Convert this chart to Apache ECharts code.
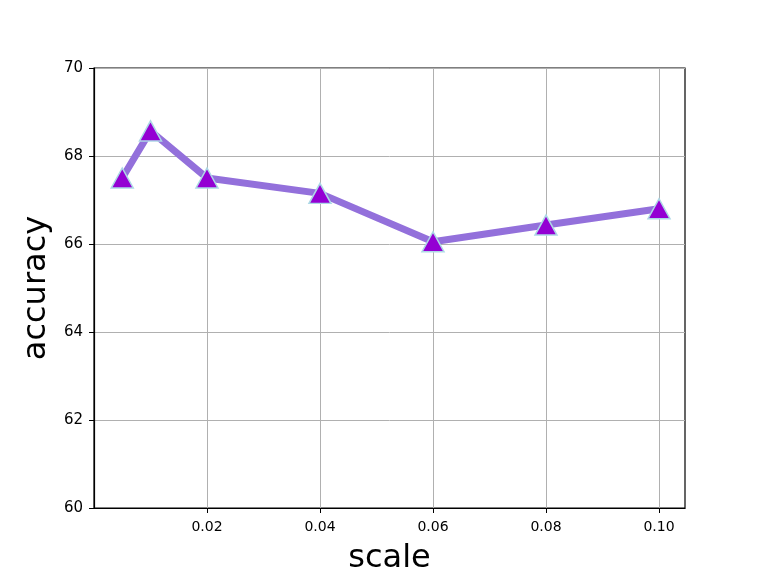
<!DOCTYPE html>
<html>
<head>
<meta charset="utf-8">
<script src="https://cdn.jsdelivr.net/npm/echarts@6/dist/echarts.min.js"></script>
<style>html,body{margin:0;padding:0;background:#fff}#c{width:761px;height:571px}</style>
</head>
<body>
<div id="c"></div>
<script>
const scales = [0.005, 0.01, 0.02, 0.04, 0.06, 0.08, 0.10];
const accuracy = [67.5, 68.57, 67.5, 67.15, 66.05, 66.43, 66.8];
const xTickLabels = ['0.02', '0.04', '0.06', '0.08', '0.10'];
const yTicks = [60, 62, 64, 66, 68, 70];

const xTickValues = xTickLabels.map(parseFloat);
const chart = echarts.init(document.getElementById('c'));
const font = 'DejaVu Sans';
chart.setOption({
  animation: false,
  grid: { left: 94, top: 68, width: 591, height: 440, show: true, borderColor: '#000', borderWidth: 1.2, backgroundColor: 'transparent', outerBoundsMode: 'none', containLabel: false },
  xAxis: {
    type: 'value', min: 0, max: 0.1046, interval: 0.02,
    name: 'scale', nameLocation: 'middle', nameGap: 35,
    nameTextStyle: { fontFamily: font, fontSize: 32, color: '#000' },
    axisLine: { show: true, lineStyle: { color: '#000', width: 1.2 } },
    axisTick: { show: true, inside: false, length: 5, lineStyle: { color: '#000' }, customValues: xTickValues },
    splitLine: { show: true, lineStyle: { color: '#b0b0b0', width: 1 } },
    axisLabel: {
      fontFamily: font, fontSize: 14, color: '#000', margin: 12,
      customValues: xTickValues,
      formatter: function (v) {
        for (const t of xTickLabels) { if (Math.abs(parseFloat(t) - v) < 1e-6) return t; }
        return '';
      }
    }
  },
  yAxis: {
    type: 'value', min: yTicks[0], max: yTicks[yTicks.length - 1], interval: 2,
    name: 'accuracy', nameLocation: 'middle', nameGap: 38,
    nameTextStyle: { fontFamily: font, fontSize: 32, color: '#000' },
    axisLine: { show: true, lineStyle: { color: '#000', width: 1.2 } },
    axisTick: { show: true, inside: false, length: 5, lineStyle: { color: '#000' } },
    splitLine: { show: true, lineStyle: { color: '#b0b0b0', width: 1 } },
    axisLabel: { fontFamily: font, fontSize: 15, color: '#000', margin: 11 }
  },
  series: [{
    type: 'line',
    data: scales.map((x, i) => [x, accuracy[i]]),
    lineStyle: { color: '#9370DB', width: 7 },
    symbol: 'triangle', symbolSize: [22, 20],
    itemStyle: { color: '#9400D3', borderColor: '#ADD8E6', borderWidth: 1.5 },
    z: 3
  }]
});
</script>
</body>
</html>
